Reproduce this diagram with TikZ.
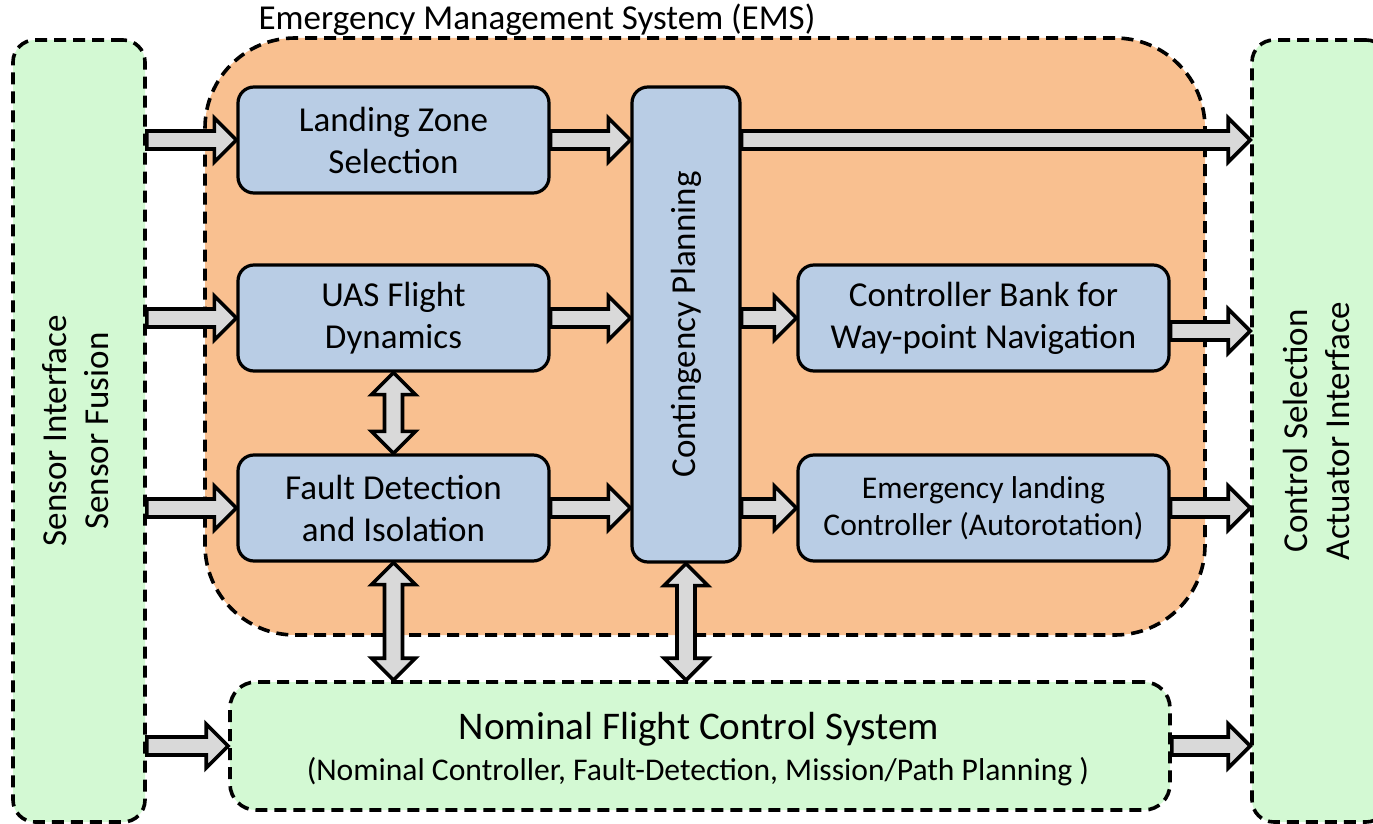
\documentclass[tikz,border=0pt]{standalone}
\usepackage{fontspec}
\setmainfont{Carlito}
\usepackage{tikz}
\usetikzlibrary{calc}

\definecolor{ifgreen}{RGB}{211,249,211}
\definecolor{emsorange}{RGB}{249,192,144}
\definecolor{emsblue}{RGB}{185,205,229}
\definecolor{arrowgray}{RGB}{217,217,217}

\newcommand{\shaft}{4.5pt}
\newcommand{\headw}{11pt}
\newcommand{\headlen}{11pt}

% block arrow from #1 to #2
\newcommand{\fatarrow}[2]{%
	\coordinate (hb) at ($(#2)!\headlen!(#1)$);
	\draw[blockarrow]
		($(#1)!\shaft!-90:(#2)$) -- ($(hb)!\shaft!90:(#1)$) -- ($(hb)!\headw!90:(#1)$)
		-- (#2) -- ($(hb)!\headw!-90:(#1)$) -- ($(hb)!\shaft!-90:(#1)$)
		-- ($(#1)!\shaft!90:(#2)$) -- cycle;
}
% block arrow with two heads
\newcommand{\fatdarrow}[2]{%
	\coordinate (ha) at ($(#1)!\headlen!(#2)$);
	\coordinate (hb) at ($(#2)!\headlen!(#1)$);
	\draw[blockarrow]
		(#1) -- ($(ha)!\headw!-90:(#2)$) -- ($(ha)!\shaft!-90:(#2)$)
		-- ($(hb)!\shaft!90:(#1)$) -- ($(hb)!\headw!90:(#1)$) -- (#2)
		-- ($(hb)!\headw!-90:(#1)$) -- ($(hb)!\shaft!-90:(#1)$)
		-- ($(ha)!\shaft!90:(#2)$) -- ($(ha)!\headw!90:(#2)$) -- cycle;
}

\tikzset{
	iface/.style={draw, line width=1.8pt, dash pattern=on 6pt off 3.5pt, fill=ifgreen,
		rounded corners=11pt, align=center, font=\fontsize{17.5}{21}\selectfont},
	block/.style={draw, line width=1.6pt, fill=emsblue, rounded corners=8pt,
		align=center, inner sep=2pt, font=\fontsize{17.5}{21}\selectfont},
	blockarrow/.style={draw, line width=1.8pt, fill=arrowgray, line join=miter},
}

\begin{document}
\begin{tikzpicture}[x=0.5pt, y=-0.5pt]
	\useasboundingbox (0,0) rectangle (1373,824);

	% Frame
	\node[iface, minimum width=66pt, minimum height=391pt] (sensor) at (79,431)
		{\rotatebox{90}{\begin{tabular}{c}Sensor Interface\\Sensor Fusion\end{tabular}}};
	\node[iface, minimum width=68pt, minimum height=391pt] (control) at (1320,431)
		{\rotatebox{90}{\begin{tabular}{c}Control Selection\\Actuator Interface\end{tabular}}};

	% EMS
	\node[draw, line width=1.8pt, dash pattern=on 6pt off 3.5pt, fill=emsorange,
		rounded corners=45pt, minimum width=500pt, minimum height=298.5pt] (ems) at (705,336.5) {};
	\node[font=\fontsize{17.5}{21}\selectfont] (emstitle) at (537,20) {Emergency Management System (EMS)};

	% Blocks
	\node[block, minimum width=155.5pt, minimum height=53pt] (lzs) at (393.5,140) {Landing Zone\\Selection};
	\node[block, minimum width=155.5pt, minimum height=53pt] (uas) at (393.5,318) {UAS Flight\\Dynamics};
	\node[block, minimum width=155.5pt, minimum height=53pt] (fdi) at (393.5,508) {Fault Detection\\and Isolation};
	\node[block, minimum width=54pt, minimum height=237.5pt] (cp) at (686,324.5) {\rotatebox{90}{Contingency Planning}};
	\node[block, minimum width=185.5pt, minimum height=53pt] (cb) at (983.5,318) {Controller Bank for\\Way-point Navigation};
	\node[block, minimum width=185.5pt, minimum height=53pt, font=\fontsize{15.8}{18.5}\selectfont] (el) at (983.5,508)
		{Emergency landing\\Controller (Autorotation)};

	% Nominal FCS
	\node[iface, minimum width=470pt, minimum height=64pt, rounded corners=13pt] (nfcs) at (700,746) {};
	\node[font=\fontsize{19.6}{23}\selectfont] (nfcstitle) at (699,729) {Nominal Flight Control System};
	\node[font=\fontsize{15.8}{18}\selectfont] (nfcssub) at (698,772) {(Nominal Controller, Fault-Detection, Mission/Path Planning )};

	% Arrow ends
	\coordinate (s1) at (sensor.east |- lzs.west);
	\coordinate (s2) at (sensor.east |- uas.west);
	\coordinate (s3) at (sensor.east |- fdi.west);
	\coordinate (s4) at (sensor.east |- nfcs.west);
	\coordinate (c1) at (cp.west |- lzs.east);
	\coordinate (c2) at (cp.west |- uas.east);
	\coordinate (c3) at (cp.west |- fdi.east);
	\coordinate (o1) at (cp.east |- lzs.east);
	\coordinate (o2) at (cp.east |- cb.west);
	\coordinate (o3) at (cp.east |- el.west);
	\coordinate (cbout) at ($(cb.east)+(0,13)$);
	\coordinate (t1) at (control.west |- o1);
	\coordinate (t2) at (control.west |- cbout);
	\coordinate (t3) at (control.west |- el.east);
	\coordinate (t4) at (control.west |- nfcs.east);
	\coordinate (n1) at (nfcs.north -| fdi.south);
	\coordinate (n2) at (nfcs.north -| cp.south);

	% Arrows
	\fatarrow{s1}{lzs.west}
	\fatarrow{s2}{uas.west}
	\fatarrow{s3}{fdi.west}
	\fatarrow{s4}{nfcs.west}
	\fatarrow{lzs.east}{c1}
	\fatarrow{uas.east}{c2}
	\fatarrow{fdi.east}{c3}
	\fatarrow{o1}{t1}
	\fatarrow{o2}{cb.west}
	\fatarrow{o3}{el.west}
	\fatarrow{cbout}{t2}
	\fatarrow{el.east}{t3}
	\fatarrow{nfcs.east}{t4}
	\fatdarrow{uas.south}{fdi.north}
	\fatdarrow{fdi.south}{n1}
	\fatdarrow{cp.south}{n2}
\end{tikzpicture}
\end{document}
